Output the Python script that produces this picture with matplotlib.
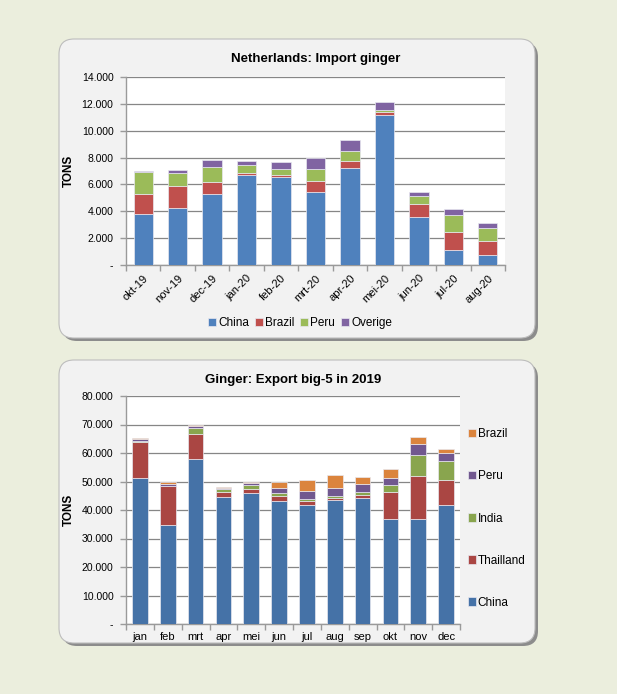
import matplotlib
matplotlib.use('Agg')
import matplotlib.pyplot as plt
from matplotlib.patches import FancyBboxPatch
from matplotlib.ticker import FuncFormatter, FixedLocator
import numpy as np

plt.rcParams['font.family'] = ['Liberation Sans', 'DejaVu Sans']

# ---------------- data ----------------
imp_months = ['okt-19', 'nov-19', 'dec-19', 'jan-20', 'feb-20', 'mrt-20',
              'apr-20', 'mei-20', 'jun-20', 'jul-20', 'aug-20']
imp_china = [3800, 4230, 5300, 6715, 6590, 5420, 7210, 11170, 3555, 1095, 770]
imp_brazil = [1520, 1640, 870, 100, 125, 800, 550, 200, 1020, 1390, 1045]
imp_peru = [1570, 945, 1145, 645, 450, 945, 720, 150, 570, 1270, 970]
imp_overige = [120, 275, 470, 275, 495, 795, 845, 645, 325, 425, 375]

exp_months = ['jan', 'feb', 'mrt', 'apr', 'mei', 'jun', 'jul', 'aug', 'sep',
              'okt', 'nov', 'dec']
exp_china = [51170, 34660, 57850, 44730, 45790, 43330, 41800, 43680, 44380,
             36770, 36770, 41800]
exp_thailand = [12530, 13590, 8780, 1760, 1520, 1750, 1410, 700, 1050,
                9720, 15220, 8900]
exp_india = [470, 230, 1990, 820, 1400, 820, 590, 590, 830, 2110, 7380, 6560]
exp_peru = [590, 590, 700, 470, 820, 1990, 2810, 2920, 2690, 2690, 3630, 2580]
exp_brazil = [350, 810, 470, 230, 470, 1760, 3980, 4340, 2570, 2930, 2580, 1520]

# ---------------- figure ----------------
W, H = 617, 694
DPI = 100
fig = plt.figure(figsize=(W / DPI, H / DPI), dpi=DPI)
fig.patch.set_facecolor('#ebeedd')


def panel(x0, y0, x1, y1):
    # pixel coordinates from top-left
    tr = fig.dpi_scale_trans
    w = (x1 - x0) / DPI
    h = (y1 - y0) / DPI
    sh = FancyBboxPatch(((x0 + 3) / DPI, (H - y1 - 3) / DPI), w, h,
                        boxstyle='round,pad=0,rounding_size=0.15',
                        transform=tr, facecolor='#8c8c8c', edgecolor='none',
                        zorder=-3)
    fc = FancyBboxPatch((x0 / DPI, (H - y1) / DPI), w, h,
                        boxstyle='round,pad=0,rounding_size=0.15',
                        transform=tr, facecolor='#f2f2f2', edgecolor='#bdbdbd',
                        linewidth=0.8, zorder=-2)
    fig.patches.append(sh)
    fig.patches.append(fc)


panel(59, 39, 535, 338)
panel(59, 360, 535, 643)


def add_ax(x0, y0, x1, y1):
    return fig.add_axes([x0 / W, 1 - y1 / H, (x1 - x0) / W, (y1 - y0) / H])


def fmt(v, pos):
    if v == 0:
        return '-'
    return f'{int(v):,}'.replace(',', '.')


def style(ax, ymax, step):
    ax.set_facecolor('white')
    ax.set_ylim(0, ymax)
    ax.yaxis.set_major_locator(FixedLocator(np.arange(0, ymax + 1, step)))
    ax.yaxis.set_major_formatter(FuncFormatter(fmt))
    ax.grid(axis='y', color='#868686', linewidth=0.9)
    ax.set_axisbelow(True)
    for s in ['top', 'right']:
        ax.spines[s].set_visible(False)
    for s in ['left', 'bottom']:
        ax.spines[s].set_color('#9a9a9a')
        ax.spines[s].set_linewidth(1.0)
    ax.tick_params(axis='y', colors='#9a9a9a', labelcolor='black',
                   labelsize=7.5, length=4, width=1, pad=5)
    ax.tick_params(axis='x', which='major', length=0)
    ax.tick_params(axis='x', which='minor', length=4, width=1,
                   colors='#9a9a9a')
    ax.set_ylabel('TONS', fontsize=8.5, fontweight='bold')


# ---------------- top chart ----------------
ax1 = add_ax(126, 77, 505, 265)
n1 = len(imp_months)
x1 = np.arange(n1)
bw = 0.56
series1 = [(imp_china, 'China', '#4f81bd'),
           (imp_brazil, 'Brazil', '#c0504d'),
           (imp_peru, 'Peru', '#9bbb59'),
           (imp_overige, 'Overige', '#8064a2')]
bottom = np.zeros(n1)
for vals, lab, col in series1:
    ax1.bar(x1, vals, bw, bottom=bottom, color=col, label=lab,
            edgecolor='#e8e8f0', linewidth=0.5, zorder=3)
    bottom += np.array(vals)
ax1.set_xlim(-0.5, n1 - 0.5)
style(ax1, 14000, 2000)
ax1.set_xticks(x1)
ax1.set_xticklabels(imp_months, rotation=45, ha='right', rotation_mode='anchor',
                    fontsize=8)
ax1.tick_params(axis='x', pad=6)
ax1.set_xticks(np.arange(-0.5, n1, 1), minor=True)
ax1.yaxis.set_label_coords(-0.135, 0.5)
ax1.set_title('Netherlands: Import ginger', fontsize=9.5, fontweight='bold',
              pad=11)
leg1 = ax1.legend(loc='center', bbox_to_anchor=(300 / W, 1 - 323 / H),
                  bbox_transform=fig.transFigure, ncol=4, frameon=False,
                  fontsize=8.5, handlelength=0.7, handleheight=0.7,
                  handletextpad=0.15, columnspacing=0.5)

# ---------------- bottom chart ----------------
ax2 = add_ax(126, 396, 460, 624)
n2 = len(exp_months)
x2 = np.arange(n2)
series2 = [(exp_china, 'China', '#4572a7'),
           (exp_thailand, 'Thailland', '#aa4643'),
           (exp_india, 'India', '#89a54e'),
           (exp_peru, 'Peru', '#71588f'),
           (exp_brazil, 'Brazil', '#db843d')]
bottom = np.zeros(n2)
handles = []
for vals, lab, col in series2:
    b = ax2.bar(x2, vals, bw, bottom=bottom, color=col, label=lab,
                edgecolor='#e8e8f0', linewidth=0.5, zorder=3)
    handles.append(b)
    bottom += np.array(vals)
ax2.set_xlim(-0.5, n2 - 0.5)
style(ax2, 80000, 10000)
ax2.set_xticks(x2)
ax2.set_xticklabels(exp_months, fontsize=8)
ax2.tick_params(axis='x', pad=6)
ax2.set_xticks(np.arange(-0.5, n2, 1), minor=True)
ax2.yaxis.set_label_coords(-0.153, 0.5)
ax2.set_title('Ginger: Export big-5 in 2019', fontsize=9.5, fontweight='bold',
              pad=9)
leg2 = ax2.legend(handles[::-1], [s[1] for s in series2][::-1],
                  loc='center left', bbox_to_anchor=(457 / W, 1 - 518.5 / H),
                  bbox_transform=fig.transFigure, frameon=False,
                  fontsize=8.5, handlelength=0.7, handleheight=0.7,
                  handletextpad=0.15, labelspacing=2.55)

fig.savefig('out.png', dpi=DPI, facecolor=fig.get_facecolor())
